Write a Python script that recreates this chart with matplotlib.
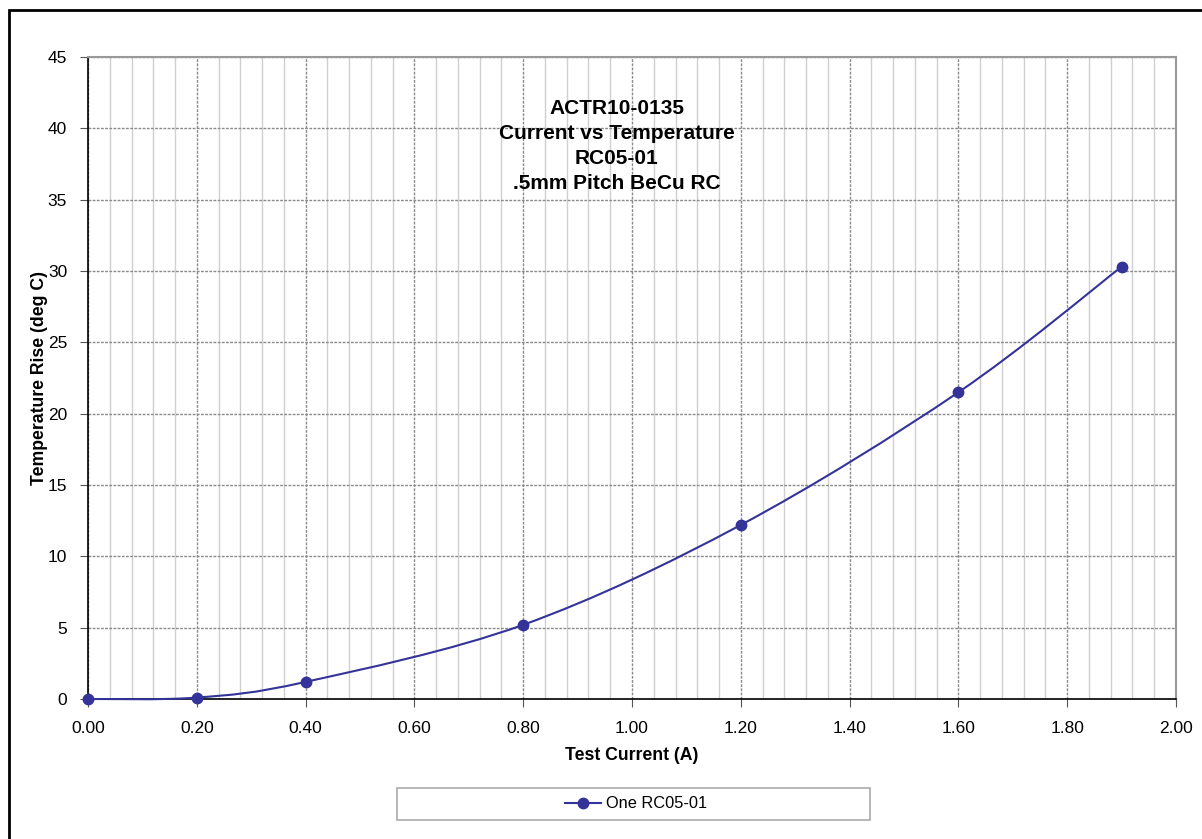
import matplotlib
matplotlib.use("Agg")
import matplotlib.pyplot as plt
import numpy as np
from matplotlib.path import Path
from matplotlib.patches import PathPatch, Rectangle
from matplotlib.lines import Line2D

plt.rcParams['font.family'] = ['Liberation Sans', 'DejaVu Sans']

current = [0.0, 0.2, 0.4, 0.8, 1.2, 1.6, 1.9]
temp_rise = [0.0, 0.1, 1.2, 5.2, 12.2, 21.5, 30.3]
series_name = "One RC05-01"
title_lines = ["ACTR10-0135", "Current vs Temperature", "RC05-01", ".5mm Pitch BeCu RC"]
xticks = [0.0, 0.2, 0.4, 0.6, 0.8, 1.0, 1.2, 1.4, 1.6, 1.8, 2.0]
yticks = [0, 5, 10, 15, 20, 25, 30, 35, 40, 45]

W, H = 1202, 839
fig = plt.figure(figsize=(W / 100, H / 100), dpi=100)
ax = fig.add_axes([88 / W, 1 - 699 / H, (1176 - 88) / W, (699 - 57) / H])

color = '#333399'

# smoothed line (Catmull-Rom style bezier, like spreadsheet smoothing)
pts = np.column_stack([current, temp_rise])
verts = [tuple(pts[0])]
codes = [Path.MOVETO]
n = len(pts)
for i in range(n - 1):
    p0 = pts[i - 1] if i > 0 else pts[i]
    p1 = pts[i]
    p2 = pts[i + 1]
    p3 = pts[i + 2] if i + 2 < n else pts[i + 1]
    c1 = p1 + (p2 - p0) / 6.0
    c2 = p2 - (p3 - p1) / 6.0
    verts += [tuple(c1), tuple(c2), tuple(p2)]
    codes += [Path.CURVE4] * 3
ax.add_patch(PathPatch(Path(verts, codes), facecolor='none', edgecolor=color, lw=1.5, zorder=3, clip_on=False))
ax.plot(current, temp_rise, linestyle='none', marker='o', markersize=7.5, color=color, zorder=4, clip_on=False)

ax.set_xlim(0, 2.0)
ax.set_ylim(0, 45)
ax.set_xticks(xticks)
ax.set_xticklabels([f"{v:.2f}" for v in xticks])
ax.set_yticks(yticks)
ax.set_xticks(np.arange(0, 2.0001, 0.04), minor=True)
ax.tick_params(axis='both', which='major', labelsize=12.5, direction='out', length=6, width=0.8, color='#555555')
ax.tick_params(axis='x', which='major', pad=10)
ax.tick_params(axis='y', which='major', pad=9)
ax.tick_params(axis='x', which='minor', length=0)

ax.grid(True, axis='x', which='minor', color='#cfcfcf', lw=1.0, linestyle='-')
ax.grid(True, axis='x', which='major', color='#8a8a8a', lw=1.0, linestyle=(0, (2, 1)))
ax.grid(True, axis='y', which='major', color='#8a8a8a', lw=1.0, linestyle=(0, (2, 1)))
ax.set_axisbelow(True)

for s in ['left', 'bottom']:
    ax.spines[s].set_color('black')
    ax.spines[s].set_linewidth(1.2)
for s in ['right', 'top']:
    ax.spines[s].set_color('#999999')
    ax.spines[s].set_linewidth(1.5)

ax.set_xlabel("Test Current (A)", fontsize=12.7, fontweight='bold', labelpad=8)
ax.set_ylabel("Temperature Rise (deg C)", fontsize=12.7, fontweight='bold', labelpad=0)

fig.text(617 / W, 1 - 99 / H, "\n".join(title_lines),
         ha='center', va='top', fontsize=15, fontweight='bold', linespacing=1.4)

# legend box
fig.patches.append(Rectangle((397 / W, 1 - 820 / H), 473 / W, 32 / H, transform=fig.transFigure,
                             facecolor='white', edgecolor='#aaaaaa', lw=1.2))
handle = Line2D([], [], color=color, lw=1.5, marker='o', markersize=7.5)
fig.legend([handle], [series_name], loc='center', bbox_to_anchor=(636 / W, 1 - 804 / H),
           frameon=False, fontsize=11.8, handlelength=2.2, handletextpad=0.3)

# outer border
fig.patches.append(Rectangle((8.5 / W, -0.1), 1.2, (839 - 10) / H + 0.1, transform=fig.transFigure,
                             facecolor='none', edgecolor='black', lw=2))

fig.savefig("out.png", dpi=100)
